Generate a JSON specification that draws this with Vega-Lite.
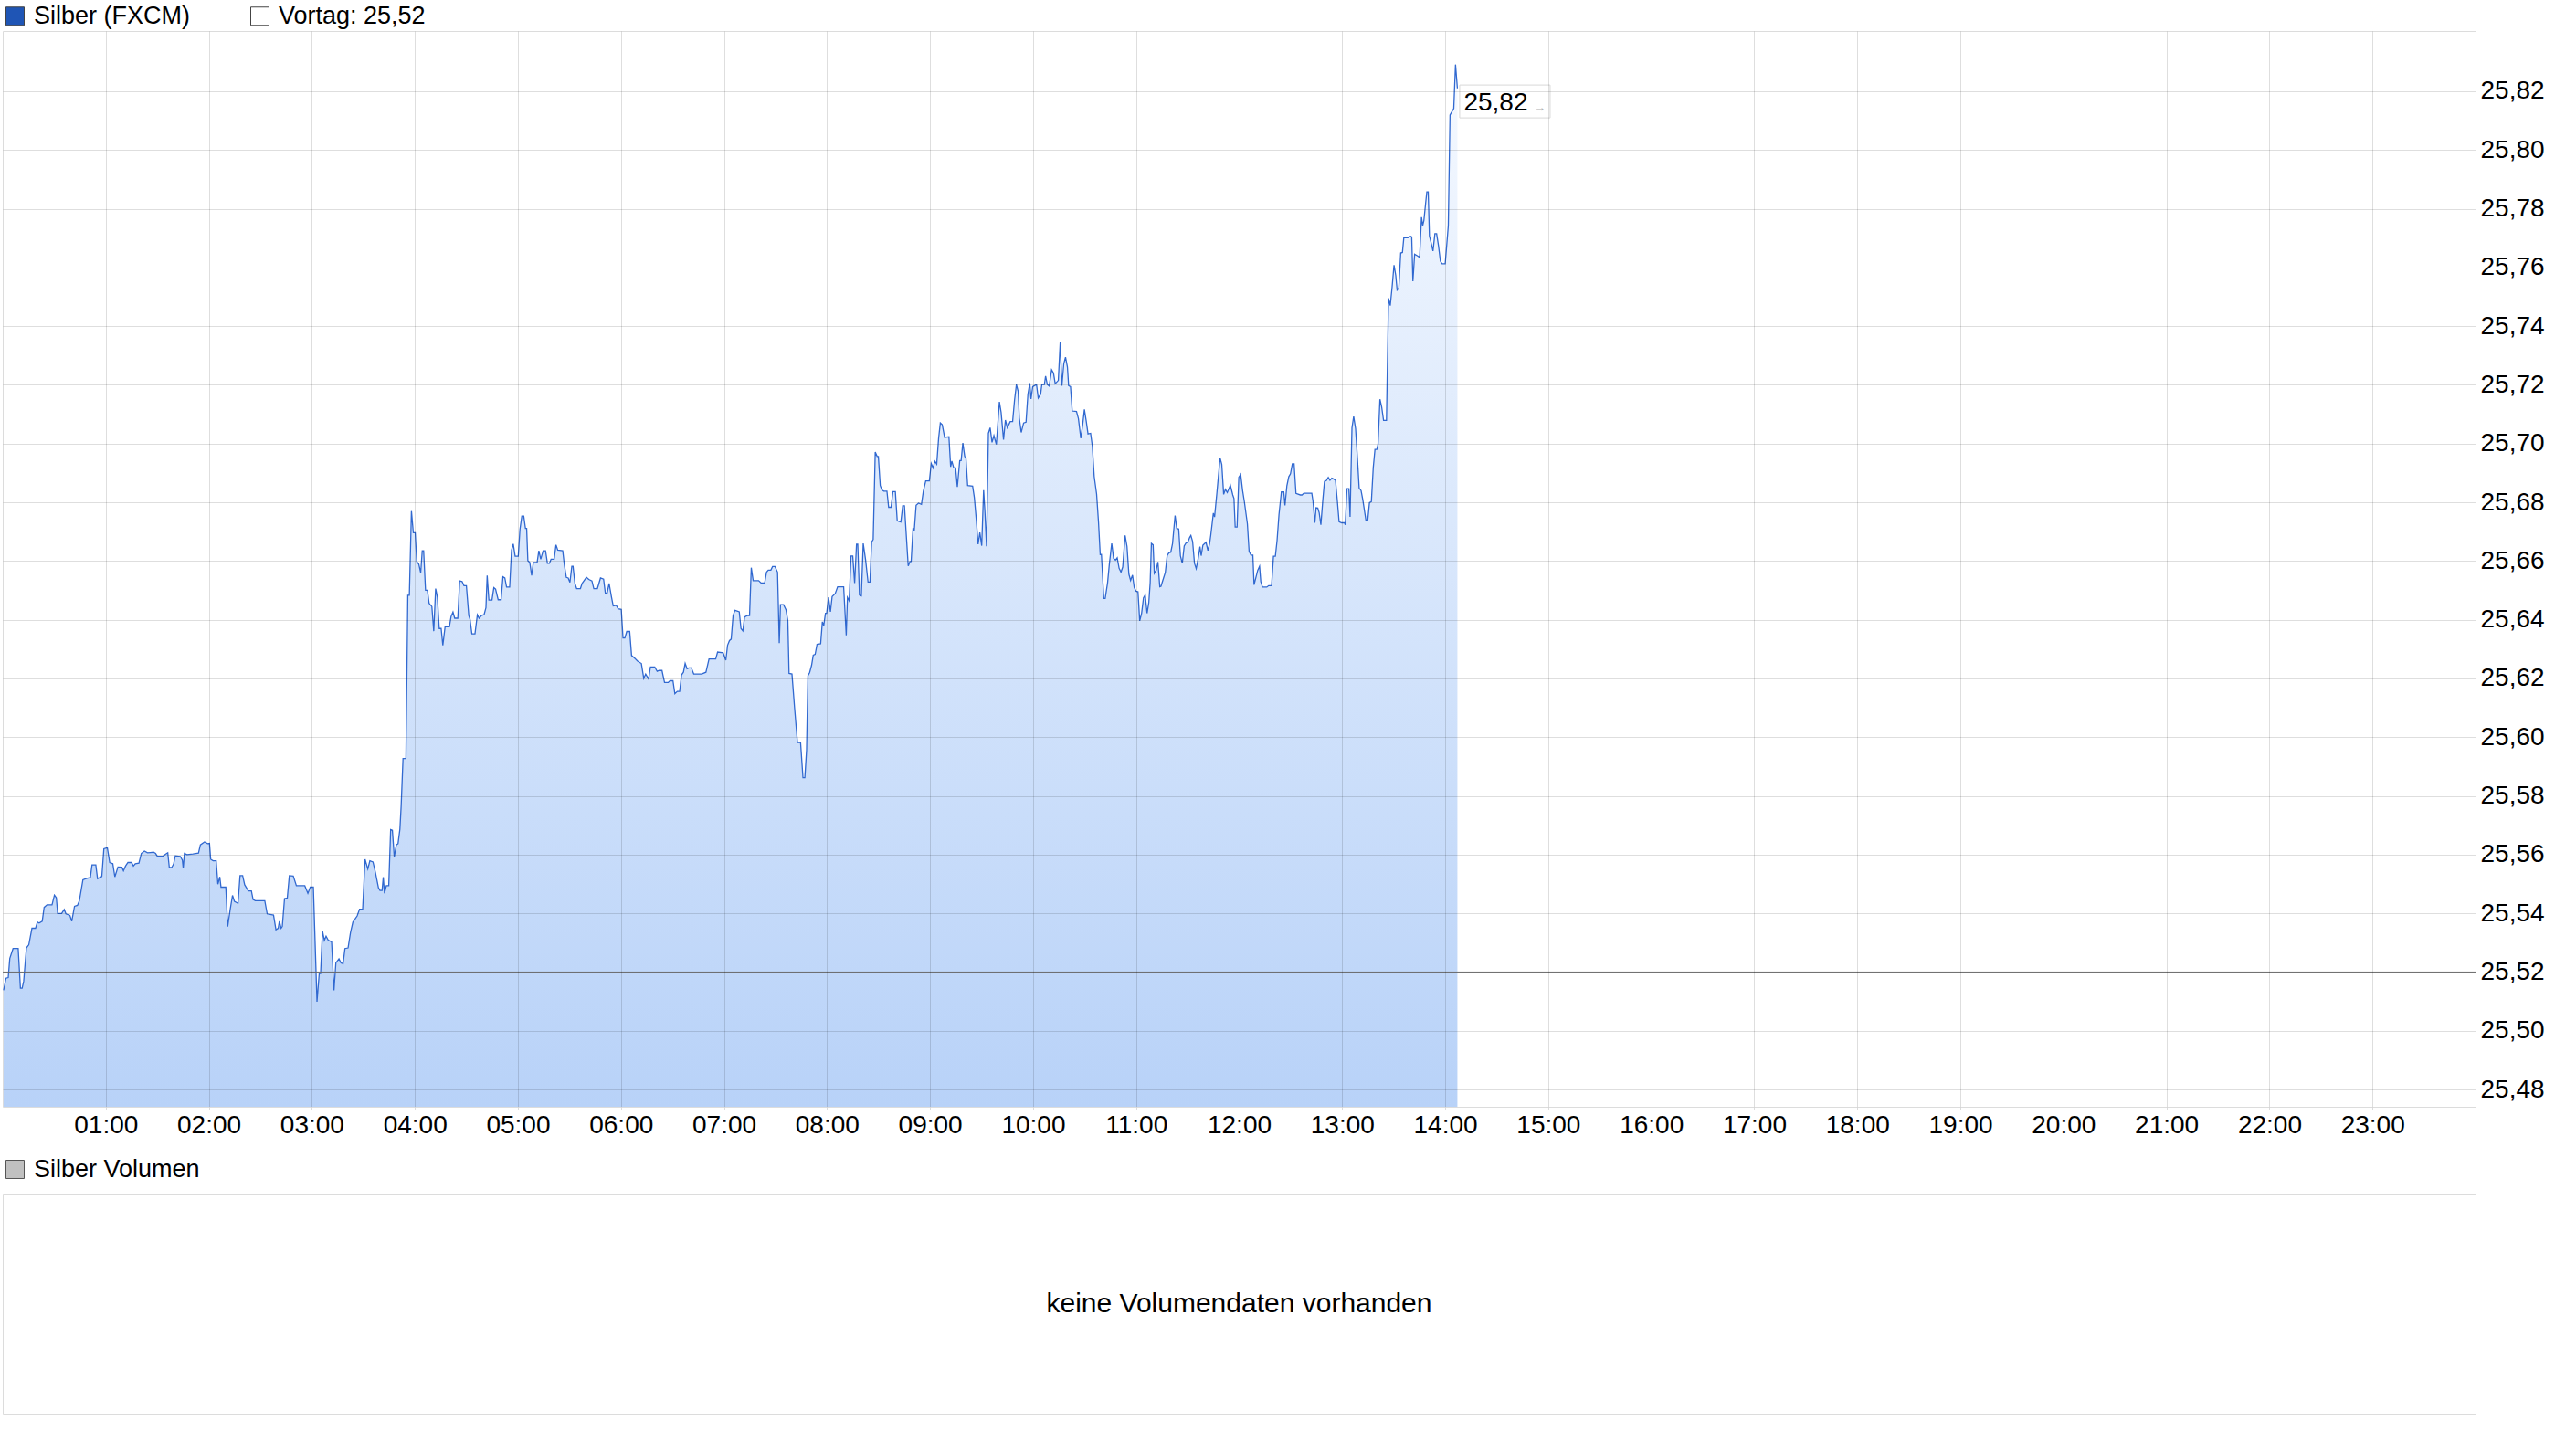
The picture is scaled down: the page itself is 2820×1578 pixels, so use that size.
{
  "$schema": "https://vega.github.io/schema/vega-lite/v6.json",
  "background": "white",
  "padding": {"left": 2, "top": 3, "right": 0, "bottom": 0},
  "autosize": {"type": "pad"},
  "config": {
    "font": "Liberation Sans",
    "view": {"stroke": "#dcdcdc", "strokeWidth": 1},
    "legend": {"labelFont": "Liberation Sans"},
    "axis": {"labelFont": "Liberation Sans"}
  },
  "spacing": 96,
  "bounds": "flush",
  "resolve": {"scale": {"fill": "independent"}, "legend": {"fill": "independent"}},
  "datasets": {
    "silber": [
      {"minute":0.5,"price":25.5138},{"minute":1.9,"price":25.5179},{"minute":3.2,"price":25.5181},{"minute":4.1,"price":25.5246},{"minute":6.0,"price":25.528},{"minute":9.0,"price":25.528},{"minute":10.3,"price":25.5145},{"minute":11.3,"price":25.5145},{"minute":12.2,"price":25.5169},{"minute":13.8,"price":25.5282},{"minute":15.2,"price":25.5293},{"minute":17.0,"price":25.5349},{"minute":19.1,"price":25.5349},{"minute":20.2,"price":25.537},{"minute":21.2,"price":25.5367},{"minute":23.0,"price":25.5373},{"minute":24.1,"price":25.542},{"minute":25.8,"price":25.5429},{"minute":28.7,"price":25.5429},{"minute":30.1,"price":25.5462},{"minute":31.2,"price":25.5453},{"minute":32.0,"price":25.5399},{"minute":34.3,"price":25.5399},{"minute":35.8,"price":25.5413},{"minute":36.8,"price":25.5398},{"minute":39.1,"price":25.5393},{"minute":40.2,"price":25.5373},{"minute":41.8,"price":25.5424},{"minute":43.5,"price":25.5427},{"minute":44.6,"price":25.5442},{"minute":46.7,"price":25.5514},{"minute":48.9,"price":25.5519},{"minute":51.0,"price":25.5522},{"minute":52.0,"price":25.5565},{"minute":54.2,"price":25.5565},{"minute":55.2,"price":25.5518},{"minute":57.7,"price":25.5525},{"minute":58.9,"price":25.562},{"minute":60.9,"price":25.5623},{"minute":62.3,"price":25.5573},{"minute":64.1,"price":25.5569},{"minute":65.3,"price":25.5524},{"minute":67.1,"price":25.5558},{"minute":69.4,"price":25.5557},{"minute":70.3,"price":25.5545},{"minute":71.5,"price":25.5561},{"minute":72.9,"price":25.5573},{"minute":75.0,"price":25.5573},{"minute":76.1,"price":25.5561},{"minute":77.2,"price":25.5569},{"minute":79.3,"price":25.5571},{"minute":80.7,"price":25.5604},{"minute":82.5,"price":25.5612},{"minute":84.3,"price":25.5606},{"minute":86.0,"price":25.5607},{"minute":87.8,"price":25.5608},{"minute":89.0,"price":25.5604},{"minute":90.1,"price":25.5594},{"minute":93.1,"price":25.5594},{"minute":94.9,"price":25.5602},{"minute":96.1,"price":25.5606},{"minute":97.0,"price":25.5556},{"minute":98.4,"price":25.5556},{"minute":99.5,"price":25.5568},{"minute":100.5,"price":25.5596},{"minute":103.4,"price":25.5594},{"minute":104.6,"price":25.5581},{"minute":105.1,"price":25.5554},{"minute":105.8,"price":25.5604},{"minute":107.3,"price":25.56},{"minute":110.8,"price":25.5602},{"minute":114.0,"price":25.5605},{"minute":115.1,"price":25.5633},{"minute":117.5,"price":25.5643},{"minute":119.3,"price":25.5637},{"minute":120.4,"price":25.5638},{"minute":121.1,"price":25.5584},{"minute":122.5,"price":25.5579},{"minute":124.3,"price":25.5579},{"minute":125.3,"price":25.5499},{"minute":126.4,"price":25.5524},{"minute":127.1,"price":25.5489},{"minute":129.9,"price":25.5489},{"minute":131.0,"price":25.5355},{"minute":132.4,"price":25.5411},{"minute":133.8,"price":25.5461},{"minute":134.9,"price":25.5441},{"minute":137.0,"price":25.5434},{"minute":138.2,"price":25.5528},{"minute":139.7,"price":25.5528},{"minute":140.9,"price":25.5497},{"minute":143.0,"price":25.5476},{"minute":144.8,"price":25.5476},{"minute":145.8,"price":25.5447},{"minute":147.1,"price":25.5443},{"minute":152.6,"price":25.5443},{"minute":154.0,"price":25.5398},{"minute":157.7,"price":25.5394},{"minute":159.1,"price":25.5344},{"minute":160.4,"price":25.5349},{"minute":161.1,"price":25.5373},{"minute":162.1,"price":25.5349},{"minute":162.8,"price":25.5355},{"minute":164.1,"price":25.545},{"minute":165.7,"price":25.5452},{"minute":166.9,"price":25.5528},{"minute":169.2,"price":25.5527},{"minute":171.0,"price":25.5494},{"minute":175.9,"price":25.5494},{"minute":177.7,"price":25.5468},{"minute":179.1,"price":25.5489},{"minute":180.9,"price":25.5489},{"minute":183.0,"price":25.5099},{"minute":184.3,"price":25.5195},{"minute":185.1,"price":25.5195},{"minute":186.2,"price":25.534},{"minute":187.3,"price":25.5308},{"minute":188.3,"price":25.5322},{"minute":189.6,"price":25.5308},{"minute":191.5,"price":25.5303},{"minute":192.9,"price":25.5138},{"minute":194.0,"price":25.5231},{"minute":195.8,"price":25.5245},{"minute":197.0,"price":25.5231},{"minute":198.2,"price":25.5228},{"minute":199.3,"price":25.528},{"minute":201.1,"price":25.5282},{"minute":202.5,"price":25.5334},{"minute":203.9,"price":25.537},{"minute":206.4,"price":25.5391},{"minute":207.8,"price":25.5414},{"minute":209.6,"price":25.5414},{"minute":211.0,"price":25.5584},{"minute":212.6,"price":25.5551},{"minute":213.8,"price":25.5579},{"minute":215.6,"price":25.5575},{"minute":217.0,"price":25.554},{"minute":218.8,"price":25.5487},{"minute":219.7,"price":25.5478},{"minute":220.9,"price":25.5478},{"minute":221.6,"price":25.5523},{"minute":222.3,"price":25.5468},{"minute":223.4,"price":25.5494},{"minute":224.8,"price":25.5494},{"minute":225.9,"price":25.5685},{"minute":226.9,"price":25.5683},{"minute":228.0,"price":25.5592},
      {"minute":229.2,"price":25.5633},{"minute":230.2,"price":25.5637},{"minute":231.3,"price":25.5687},{"minute":232.0,"price":25.5764},{"minute":233.1,"price":25.5927},{"minute":234.8,"price":25.5927},{"minute":235.9,"price":25.6483},{"minute":236.8,"price":25.6483},{"minute":238.0,"price":25.677},{"minute":239.1,"price":25.6696},{"minute":240.2,"price":25.6696},{"minute":241.1,"price":25.6598},{"minute":242.3,"price":25.6589},{"minute":243.4,"price":25.656},{"minute":244.3,"price":25.6635},{"minute":245.1,"price":25.6635},{"minute":246.2,"price":25.65},{"minute":247.3,"price":25.65},{"minute":248.3,"price":25.6456},{"minute":249.9,"price":25.6445},{"minute":251.0,"price":25.6361},{"minute":252.1,"price":25.6506},{"minute":253.1,"price":25.6477},{"minute":254.2,"price":25.637},{"minute":255.3,"price":25.637},{"minute":256.3,"price":25.6313},{"minute":257.6,"price":25.6376},{"minute":260.1,"price":25.6376},{"minute":261.1,"price":25.6411},{"minute":262.2,"price":25.6426},{"minute":263.2,"price":25.6405},{"minute":265.0,"price":25.6405},{"minute":266.1,"price":25.6532},{"minute":267.5,"price":25.653},{"minute":268.6,"price":25.6516},{"minute":270.0,"price":25.6516},{"minute":271.4,"price":25.6414},{"minute":272.1,"price":25.6402},{"minute":273.2,"price":25.6352},{"minute":275.0,"price":25.6352},{"minute":276.4,"price":25.6417},{"minute":277.4,"price":25.6405},{"minute":278.9,"price":25.6415},{"minute":280.3,"price":25.6417},{"minute":281.4,"price":25.6441},{"minute":282.1,"price":25.655},{"minute":283.1,"price":25.6467},{"minute":284.9,"price":25.6467},{"minute":286.0,"price":25.6509},{"minute":287.0,"price":25.6504},{"minute":288.5,"price":25.6468},{"minute":290.2,"price":25.6468},{"minute":291.3,"price":25.6546},{"minute":292.4,"price":25.6542},{"minute":293.4,"price":25.6511},{"minute":295.2,"price":25.6511},{"minute":296.3,"price":25.6637},{"minute":297.3,"price":25.6658},{"minute":298.4,"price":25.6616},{"minute":300.2,"price":25.6616},{"minute":301.2,"price":25.6708},{"minute":302.3,"price":25.6753},{"minute":303.4,"price":25.6753},{"minute":304.4,"price":25.6711},{"minute":305.1,"price":25.6711},{"minute":305.8,"price":25.6601},{"minute":306.9,"price":25.6595},{"minute":308.0,"price":25.6551},{"minute":309.0,"price":25.6595},{"minute":311.2,"price":25.6595},{"minute":312.2,"price":25.6635},{"minute":313.3,"price":25.6606},{"minute":314.7,"price":25.6635},{"minute":316.1,"price":25.6635},{"minute":317.2,"price":25.6592},{"minute":318.3,"price":25.6592},{"minute":319.3,"price":25.6606},{"minute":321.1,"price":25.6606},{"minute":322.2,"price":25.6655},{"minute":323.2,"price":25.6637},{"minute":326.1,"price":25.6635},{"minute":327.1,"price":25.6584},{"minute":328.2,"price":25.6544},{"minute":329.3,"price":25.6542},{"minute":330.3,"price":25.6527},{"minute":331.4,"price":25.6582},{"minute":332.1,"price":25.6582},{"minute":333.2,"price":25.6524},{"minute":334.2,"price":25.6506},{"minute":336.4,"price":25.6506},{"minute":337.4,"price":25.6524},{"minute":338.9,"price":25.6536},{"minute":339.9,"price":25.6544},{"minute":341.3,"price":25.6537},{"minute":343.1,"price":25.6532},{"minute":344.2,"price":25.6506},{"minute":346.3,"price":25.6506},{"minute":348.1,"price":25.6542},{"minute":349.9,"price":25.6538},{"minute":350.9,"price":25.6491},{"minute":352.0,"price":25.6491},{"minute":353.1,"price":25.6524},{"minute":354.5,"price":25.6477},{"minute":355.5,"price":25.6447},{"minute":357.3,"price":25.6449},{"minute":358.4,"price":25.6437},{"minute":360.2,"price":25.6435},{"minute":361.2,"price":25.6338},{"minute":362.3,"price":25.6338},{"minute":363.4,"price":25.636},{"minute":365.1,"price":25.636},{"minute":366.2,"price":25.6278},{"minute":368.0,"price":25.6269},{"minute":369.7,"price":25.6259},{"minute":371.9,"price":25.6251},{"minute":373.3,"price":25.62},{"minute":374.4,"price":25.6215},{"minute":376.1,"price":25.6198},{"minute":377.2,"price":25.6239},{"minute":379.7,"price":25.6239},{"minute":381.1,"price":25.6224},{"minute":382.2,"price":25.6227},{"minute":383.9,"price":25.6227},{"minute":385.4,"price":25.6186},{"minute":387.5,"price":25.6186},{"minute":388.6,"price":25.6192},{"minute":390.3,"price":25.6192},{"minute":391.4,"price":25.6148},{"minute":392.8,"price":25.6156},{"minute":394.2,"price":25.6156},{"minute":395.3,"price":25.6212},{"minute":396.4,"price":25.6221},{"minute":397.4,"price":25.6251},{"minute":398.5,"price":25.6233},{"minute":399.6,"price":25.6236},{"minute":401.0,"price":25.6236},{"minute":402.4,"price":25.6215},{"minute":407.0,"price":25.6215},{"minute":409.5,"price":25.6221},{"minute":411.3,"price":25.6266},{"minute":415.2,"price":25.6266},{"minute":416.3,"price":25.629},{"minute":419.5,"price":25.6287},
      {"minute":421.1,"price":25.6262},{"minute":422.1,"price":25.6313},{"minute":423.2,"price":25.6329},{"minute":424.2,"price":25.6334},{"minute":425.3,"price":25.6414},{"minute":426.4,"price":25.6432},{"minute":428.9,"price":25.6427},{"minute":429.9,"price":25.637},{"minute":431.0,"price":25.6362},{"minute":432.0,"price":25.6409},{"minute":433.5,"price":25.6414},{"minute":434.9,"price":25.6414},{"minute":435.9,"price":25.6577},{"minute":437.0,"price":25.6533},{"minute":440.2,"price":25.6533},{"minute":441.6,"price":25.6525},{"minute":443.7,"price":25.6525},{"minute":444.8,"price":25.6562},{"minute":445.8,"price":25.6569},{"minute":447.3,"price":25.6569},{"minute":448.3,"price":25.6581},{"minute":449.7,"price":25.6581},{"minute":451.2,"price":25.6562},{"minute":452.2,"price":25.632},{"minute":452.9,"price":25.6451},{"minute":454.7,"price":25.6451},{"minute":456.1,"price":25.6434},{"minute":457.2,"price":25.6396},{"minute":457.9,"price":25.6217},{"minute":459.6,"price":25.6215},{"minute":461.1,"price":25.6101},{"minute":462.8,"price":25.5982},{"minute":464.6,"price":25.5982},{"minute":466.0,"price":25.5862},{"minute":467.1,"price":25.5862},{"minute":468.1,"price":25.5956},{"minute":468.9,"price":25.6209},{"minute":469.9,"price":25.622},{"minute":471.0,"price":25.6244},{"minute":472.0,"price":25.6279},{"minute":473.1,"price":25.6282},{"minute":474.2,"price":25.6316},{"minute":476.3,"price":25.6318},{"minute":477.3,"price":25.6393},{"minute":478.1,"price":25.638},{"minute":479.1,"price":25.6422},{"minute":479.8,"price":25.6422},{"minute":480.9,"price":25.6476},{"minute":482.0,"price":25.6427},{"minute":483.0,"price":25.6479},{"minute":484.8,"price":25.6489},{"minute":486.2,"price":25.6512},{"minute":489.7,"price":25.6512},{"minute":491.2,"price":25.6347},{"minute":491.9,"price":25.6476},{"minute":492.9,"price":25.6465},{"minute":494.0,"price":25.6617},{"minute":495.0,"price":25.6617},{"minute":496.1,"price":25.6525},{"minute":497.2,"price":25.6657},{"minute":497.9,"price":25.6657},{"minute":498.9,"price":25.6484},{"minute":500.0,"price":25.6481},{"minute":501.1,"price":25.666},{"minute":502.5,"price":25.6603},{"minute":503.9,"price":25.6528},{"minute":505.0,"price":25.6528},{"minute":506.0,"price":25.6665},{"minute":506.9,"price":25.6673},
      {"minute":508.1,"price":25.6971},{"minute":509.2,"price":25.6956},{"minute":509.9,"price":25.6956},{"minute":511.0,"price":25.6857},{"minute":512.0,"price":25.6842},{"minute":513.1,"price":25.6838},{"minute":514.9,"price":25.6838},{"minute":515.9,"price":25.6783},{"minute":517.3,"price":25.6783},{"minute":518.4,"price":25.6836},{"minute":519.8,"price":25.6836},{"minute":520.9,"price":25.6737},{"minute":523.0,"price":25.6733},{"minute":524.1,"price":25.6788},{"minute":525.1,"price":25.6788},{"minute":527.3,"price":25.6583},{"minute":528.3,"price":25.6598},{"minute":529.0,"price":25.6598},{"minute":530.1,"price":25.6712},{"minute":530.8,"price":25.6702},{"minute":531.9,"price":25.679},{"minute":533.3,"price":25.6797},{"minute":535.0,"price":25.6793},{"minute":536.1,"price":25.6838},{"minute":537.5,"price":25.6873},{"minute":539.6,"price":25.6873},{"minute":540.7,"price":25.6932},{"minute":541.8,"price":25.6917},{"minute":542.8,"price":25.694},{"minute":543.9,"price":25.693},{"minute":545.0,"price":25.7018},{"minute":546.0,"price":25.707},{"minute":547.1,"price":25.7064},{"minute":548.5,"price":25.7021},{"minute":551.0,"price":25.7023},{"minute":552.0,"price":25.6921},{"minute":552.7,"price":25.694},{"minute":553.8,"price":25.6917},{"minute":554.9,"price":25.6917},{"minute":555.9,"price":25.6852},{"minute":557.3,"price":25.6942},{"minute":558.1,"price":25.6942},{"minute":559.1,"price":25.7002},{"minute":560.2,"price":25.6956},{"minute":560.9,"price":25.6952},{"minute":561.9,"price":25.6857},{"minute":564.8,"price":25.6855},{"minute":565.8,"price":25.6816},{"minute":566.9,"price":25.6743},{"minute":568.0,"price":25.6657},{"minute":569.0,"price":25.6697},{"minute":570.1,"price":25.6652},{"minute":571.2,"price":25.6841},{"minute":571.9,"price":25.6774},{"minute":572.9,"price":25.665},{"minute":574.0,"price":25.7035},{"minute":575.0,"price":25.7054},{"minute":576.1,"price":25.7004},{"minute":577.2,"price":25.7027},{"minute":578.6,"price":25.6997},{"minute":580.4,"price":25.7142},{"minute":581.4,"price":25.7106},{"minute":582.8,"price":25.7013},{"minute":583.9,"price":25.708},{"minute":585.0,"price":25.7054},{"minute":586.7,"price":25.7075},{"minute":588.1,"price":25.7075},{"minute":589.2,"price":25.7147},{"minute":590.3,"price":25.7201},{"minute":591.3,"price":25.7178},{"minute":592.0,"price":25.7087},{"minute":593.1,"price":25.7038},{"minute":594.5,"price":25.707},{"minute":595.9,"price":25.7073},{"minute":597.0,"price":25.7168},{"minute":598.1,"price":25.7206},{"minute":598.8,"price":25.7152},{"minute":599.8,"price":25.7194},{"minute":602.0,"price":25.7201},{"minute":603.0,"price":25.7155},{"minute":604.4,"price":25.7168},{"minute":605.1,"price":25.7201},{"minute":606.6,"price":25.7201},{"minute":607.3,"price":25.723},{"minute":608.3,"price":25.7201},{"minute":609.4,"price":25.7196},{"minute":610.8,"price":25.7251},{"minute":611.9,"price":25.724},{"minute":612.9,"price":25.7204},{"minute":614.7,"price":25.7215},{"minute":615.8,"price":25.7344},{"minute":616.8,"price":25.7197},{"minute":617.9,"price":25.7272},{"minute":618.9,"price":25.7294},{"minute":620.0,"price":25.7261},{"minute":620.7,"price":25.7197},{"minute":621.8,"price":25.7194},{"minute":622.8,"price":25.7111},{"minute":625.3,"price":25.7109},{"minute":626.4,"price":25.7085},{"minute":627.8,"price":25.7018},{"minute":628.9,"price":25.7064},{"minute":629.9,"price":25.7116},{"minute":631.0,"price":25.7075},{"minute":632.0,"price":25.7033},{"minute":633.5,"price":25.7035},{"minute":634.5,"price":25.6992},{"minute":635.6,"price":25.6888},{"minute":637.0,"price":25.6828},{"minute":638.1,"price":25.6733},{"minute":639.1,"price":25.6622},{"minute":639.8,"price":25.6622},{"minute":641.2,"price":25.6472},{"minute":642.0,"price":25.6472},{"minute":643.4,"price":25.6526},{"minute":644.4,"price":25.6588},{"minute":645.8,"price":25.666},{"minute":646.9,"price":25.6609},{"minute":648.0,"price":25.6603},{"minute":649.0,"price":25.6611},{"minute":650.1,"price":25.6575},{"minute":651.2,"price":25.6562},{"minute":652.2,"price":25.6579},{"minute":653.6,"price":25.6687},{"minute":654.7,"price":25.665},{"minute":655.8,"price":25.6555},{"minute":656.8,"price":25.6534},{"minute":657.9,"price":25.6552},{"minute":658.9,"price":25.651},{"minute":660.0,"price":25.6497},{"minute":661.1,"price":25.6495},{"minute":662.1,"price":25.6396},{"minute":663.2,"price":25.6422},{"minute":664.3,"price":25.6474},{"minute":665.3,"price":25.6484},{"minute":666.4,"price":25.6422},{"minute":667.4,"price":25.6458},{"minute":668.2,"price":25.6526},{"minute":668.9,"price":25.666},{"minute":669.9,"price":25.6655},
      {"minute":670.6,"price":25.6558},{"minute":671.7,"price":25.6568},{"minute":672.7,"price":25.6597},{"minute":673.8,"price":25.6512},{"minute":674.5,"price":25.6514},{"minute":675.6,"price":25.6535},{"minute":677.0,"price":25.6561},{"minute":678.1,"price":25.6618},{"minute":679.1,"price":25.6628},{"minute":680.2,"price":25.663},{"minute":681.2,"price":25.6659},{"minute":682.7,"price":25.6755},{"minute":683.7,"price":25.6711},{"minute":684.8,"price":25.6709},{"minute":685.8,"price":25.6618},{"minute":686.9,"price":25.6592},{"minute":688.0,"price":25.6651},{"minute":689.0,"price":25.6661},{"minute":690.1,"price":25.6664},{"minute":691.2,"price":25.668},{"minute":691.9,"price":25.6687},{"minute":692.9,"price":25.6667},{"minute":694.0,"price":25.6592},{"minute":695.0,"price":25.6574},{"minute":696.1,"price":25.6607},{"minute":697.2,"price":25.6649},{"minute":697.9,"price":25.6618},{"minute":698.9,"price":25.6654},{"minute":700.7,"price":25.6664},{"minute":701.8,"price":25.6636},{"minute":702.8,"price":25.6659},{"minute":703.5,"price":25.6688},{"minute":705.0,"price":25.6763},{"minute":705.7,"price":25.675},{"minute":707.1,"price":25.6835},{"minute":708.9,"price":25.6951},{"minute":709.9,"price":25.6929},{"minute":711.0,"price":25.6827},{"minute":712.0,"price":25.6844},{"minute":713.1,"price":25.6833},{"minute":714.9,"price":25.6858},{"minute":716.3,"price":25.6825},{"minute":717.0,"price":25.6813},{"minute":717.7,"price":25.6716},{"minute":718.8,"price":25.6716},{"minute":719.8,"price":25.6885},{"minute":720.9,"price":25.6895},{"minute":722.0,"price":25.6841},{"minute":723.0,"price":25.6804},{"minute":724.8,"price":25.6727},{"minute":725.8,"price":25.6633},{"minute":726.9,"price":25.662},{"minute":728.0,"price":25.662},{"minute":728.7,"price":25.6519},{"minute":730.8,"price":25.6568},{"minute":731.9,"price":25.6582},{"minute":732.6,"price":25.653},{"minute":733.6,"price":25.6511},{"minute":736.1,"price":25.6511},{"minute":737.2,"price":25.6516},{"minute":738.9,"price":25.6516},{"minute":740.0,"price":25.6616},{"minute":741.1,"price":25.6616},{"minute":742.1,"price":25.667},{"minute":743.2,"price":25.6758},{"minute":744.6,"price":25.6835},{"minute":746.0,"price":25.6835},{"minute":746.7,"price":25.6789},{"minute":747.8,"price":25.6856},{"minute":748.9,"price":25.6887},{"minute":749.9,"price":25.6897},{"minute":751.0,"price":25.6931},{"minute":752.0,"price":25.6931},{"minute":753.1,"price":25.683},{"minute":755.6,"price":25.6825},{"minute":756.6,"price":25.6825},{"minute":757.7,"price":25.6831},{"minute":762.3,"price":25.6831},{"minute":763.0,"price":25.6804},{"minute":764.1,"price":25.673},{"minute":764.8,"price":25.6781},{"minute":765.8,"price":25.678},{"minute":766.6,"price":25.6765},{"minute":767.6,"price":25.6723},{"minute":768.7,"price":25.6806},{"minute":769.7,"price":25.6871},{"minute":770.8,"price":25.6874},{"minute":771.9,"price":25.6885},{"minute":772.9,"price":25.6875},{"minute":774.0,"price":25.6882},{"minute":775.1,"price":25.6879},{"minute":776.1,"price":25.6875},{"minute":777.2,"price":25.6804},{"minute":778.2,"price":25.6734},{"minute":779.7,"price":25.673},{"minute":781.4,"price":25.673},{"minute":781.8,"price":25.6723},{"minute":782.8,"price":25.6846},{"minute":783.9,"price":25.6846},{"minute":784.6,"price":25.675},{"minute":785.7,"price":25.7053},{"minute":786.7,"price":25.7092},{"minute":787.8,"price":25.7051},{"minute":788.9,"price":25.6949},{"minute":789.9,"price":25.6848},{"minute":791.0,"price":25.684},{"minute":792.0,"price":25.6809},{"minute":793.8,"price":25.674},{"minute":794.9,"price":25.674},{"minute":795.9,"price":25.6799},{"minute":797.0,"price":25.6802},{"minute":798.1,"price":25.6918},{"minute":799.1,"price":25.698},{"minute":800.2,"price":25.698},{"minute":800.9,"price":25.6999},{"minute":802.0,"price":25.7151},{"minute":803.0,"price":25.7125},{"minute":804.1,"price":25.7079},{"minute":805.8,"price":25.7079},
      {"minute":807.0,"price":25.7495},{"minute":808.0,"price":25.747},{"minute":809.1,"price":25.7534},{"minute":810.2,"price":25.7608},{"minute":811.2,"price":25.7573},{"minute":812.0,"price":25.7523},{"minute":813.0,"price":25.753},{"minute":814.1,"price":25.7649},{"minute":815.1,"price":25.7651},{"minute":815.9,"price":25.7701},{"minute":818.3,"price":25.7701},{"minute":819.8,"price":25.7706},{"minute":820.5,"price":25.7704},{"minute":821.2,"price":25.7553},{"minute":822.2,"price":25.7645},{"minute":823.7,"price":25.764},{"minute":825.1,"price":25.7634},{"minute":826.2,"price":25.7771},{"minute":826.9,"price":25.7742},{"minute":827.6,"price":25.776},{"minute":828.6,"price":25.7818},{"minute":829.3,"price":25.7857},{"minute":830.1,"price":25.7857},{"minute":830.8,"price":25.7707},{"minute":831.8,"price":25.7684},{"minute":832.9,"price":25.7656},{"minute":834.0,"price":25.7715},{"minute":835.0,"price":25.7715},{"minute":836.1,"price":25.7673},{"minute":837.2,"price":25.7621},{"minute":838.2,"price":25.7612},{"minute":840.0,"price":25.7612},{"minute":840.7,"price":25.7662},{"minute":841.8,"price":25.7742},{"minute":842.8,"price":25.8119},{"minute":843.9,"price":25.813},{"minute":845.0,"price":25.8141},{"minute":846.0,"price":25.8291},{"minute":847.1,"price":25.821}
    ]
  },
  "vconcat": [
    {
      "width": 2707,
      "height": 1178,
      "view": {"stroke": "#dcdcdc", "strokeWidth": 1},
      "layer": [
        {
          "data": {"name": "silber"},
          "mark": {
            "type": "area",
            "clip": true,
            "opacity": 1,
            "fillOpacity": 1,
            "color": {
              "gradient": "linear",
              "x1": 0, "y1": 0, "x2": 0, "y2": 1,
              "stops": [
                {"offset": 0, "color": "#f5f9ff"},
                {"offset": 1, "color": "#b8d2f8"}
              ]
            }
          },
          "encoding": {
            "x": {
              "field": "minute", "type": "quantitative",
              "scale": {"domain": [0, 1440], "nice": false, "zero": false},
              "axis": {
                "title": null,
                "zindex": 1,
                "values": [60,120,180,240,300,360,420,480,540,600,660,720,780,840,900,960,1020,1080,1140,1200,1260,1320,1380],
                "labelExpr": "(datum.value < 600 ? '0' : '') + (datum.value / 60) + ':00'",
                "grid": true, "gridColor": "#000000", "gridOpacity": 0.13, "gridWidth": 1,
                "domain": false,
                "ticks": true, "tickSize": 3, "tickColor": "#dcdcdc",
                "labelFontSize": 28, "labelColor": "#000000",
                "labelBaseline": "alphabetic", "labelPadding": 25,
                "labelFlush": false, "labelOverlap": false
              }
            },
            "y": {
              "field": "price", "type": "quantitative",
              "scale": {"domain": [25.4741, 25.8405], "nice": false, "zero": false},
              "axis": {
                "title": null, "orient": "right",
                "zindex": 1,
                "values": [25.48,25.5,25.52,25.54,25.56,25.58,25.6,25.62,25.64,25.66,25.68,25.7,25.72,25.74,25.76,25.78,25.8,25.82],
                "labelExpr": "replace(format(datum.value, '.2f'), '.', ',')",
                "grid": true, "gridColor": "#000000", "gridOpacity": 0.13, "gridWidth": 1,
                "domain": false, "ticks": false, "tickSize": 0,
                "labelPadding": 5, "labelFontSize": 28, "labelColor": "#000000",
                "labelAlign": "left", "labelBaseline": "middle",
                "labelFlush": false, "labelOverlap": false
              }
            },
            "y2": {"datum": 25.4741}
          }
        },
        {
          "data": {"name": "silber"},
          "mark": {"type": "line", "color": "#3068d0", "strokeWidth": 1.3, "clip": true},
          "encoding": {
            "x": {"field": "minute", "type": "quantitative"},
            "y": {"field": "price", "type": "quantitative"}
          }
        },
        {
          "data": {"values": [{"vortag": 25.52}]},
          "mark": {"type": "rule", "color": "#7a7a7a", "strokeWidth": 1},
          "encoding": {"y": {"field": "vortag", "type": "quantitative"}}
        },
        {
          "data": {"values": [{"minute": 847.1, "price": 25.821, "label": "25,82"}]},
          "layer": [
            {
              "mark": {
                "type": "point",
                "shape": "M-0.99,-0.36L0.99,-0.36L0.99,0.36L-0.99,0.36Z",
                "size": 10000, "filled": true, "fill": "#ffffff", "fillOpacity": 1,
                "stroke": "#d8d8d8", "strokeWidth": 1, "opacity": 1,
                "xOffset": 52, "yOffset": 14.4
              },
              "encoding": {
                "x": {"field": "minute", "type": "quantitative"},
                "y": {"field": "price", "type": "quantitative"}
              }
            },
            {
              "mark": {"type": "text", "align": "left", "baseline": "alphabetic", "dx": 7, "dy": 24.4, "fontSize": 28, "color": "#000000"},
              "encoding": {
                "x": {"field": "minute", "type": "quantitative"},
                "y": {"field": "price", "type": "quantitative"},
                "text": {"field": "label"}
              }
            },
            {
              "mark": {"type": "text", "align": "center", "baseline": "middle", "dx": 90, "dy": 21, "fontSize": 13, "color": "#b0b0b0", "text": "→"},
              "encoding": {
                "x": {"field": "minute", "type": "quantitative"},
                "y": {"field": "price", "type": "quantitative"}
              }
            }
          ]
        },
        {
          "data": {"values": [{"series": "Silber (FXCM)"}, {"series": "Vortag: 25,52"}]},
          "mark": {"type": "point", "shape": "square", "filled": true, "opacity": 0},
          "encoding": {
            "fill": {
              "field": "series", "type": "nominal",
              "scale": {"domain": ["Silber (FXCM)", "Vortag: 25,52"], "range": ["#1f55b5", "#ffffff"]},
              "legend": {
                "orient": "none", "legendX": 0, "legendY": -30,
                "direction": "horizontal", "title": null,
                "symbolType": "square", "symbolSize": 400,
                "symbolStrokeColor": "#444444", "symbolStrokeWidth": 1, "symbolOpacity": 1,
                "labelFontSize": 27, "labelColor": "#000000", "labelOffset": 7,
                "columnPadding": 62, "padding": 0, "labelLimit": 0
              }
            }
          }
        }
      ]
    },
    {
      "width": 2707,
      "height": 240,
      "view": {"stroke": "#dcdcdc", "strokeWidth": 1},
      "layer": [
        {
          "data": {"values": [{"msg": "keine Volumendaten vorhanden", "xpos": 0.5, "ypos": 0.5}]},
          "mark": {"type": "text", "fontSize": 30, "color": "#000000", "align": "center", "baseline": "middle"},
          "encoding": {
            "x": {"field": "xpos", "type": "quantitative", "scale": {"domain": [0, 1], "nice": false, "zero": false}, "axis": null},
            "y": {"field": "ypos", "type": "quantitative", "scale": {"domain": [0, 1], "nice": false, "zero": false}, "axis": null},
            "text": {"field": "msg"}
          }
        },
        {
          "data": {"values": [{"series": "Silber Volumen"}]},
          "mark": {"type": "point", "shape": "square", "filled": true, "opacity": 0},
          "encoding": {
            "fill": {
              "field": "series", "type": "nominal",
              "scale": {"domain": ["Silber Volumen"], "range": ["#c0c0c0"]},
              "legend": {
                "orient": "none", "legendX": 0, "legendY": -41,
                "direction": "horizontal", "title": null,
                "symbolType": "square", "symbolSize": 400,
                "symbolStrokeColor": "#555555", "symbolStrokeWidth": 1, "symbolOpacity": 1,
                "labelFontSize": 27, "labelColor": "#000000", "labelOffset": 7,
                "padding": 0, "labelLimit": 0
              }
            }
          }
        }
      ]
    }
  ]
}
